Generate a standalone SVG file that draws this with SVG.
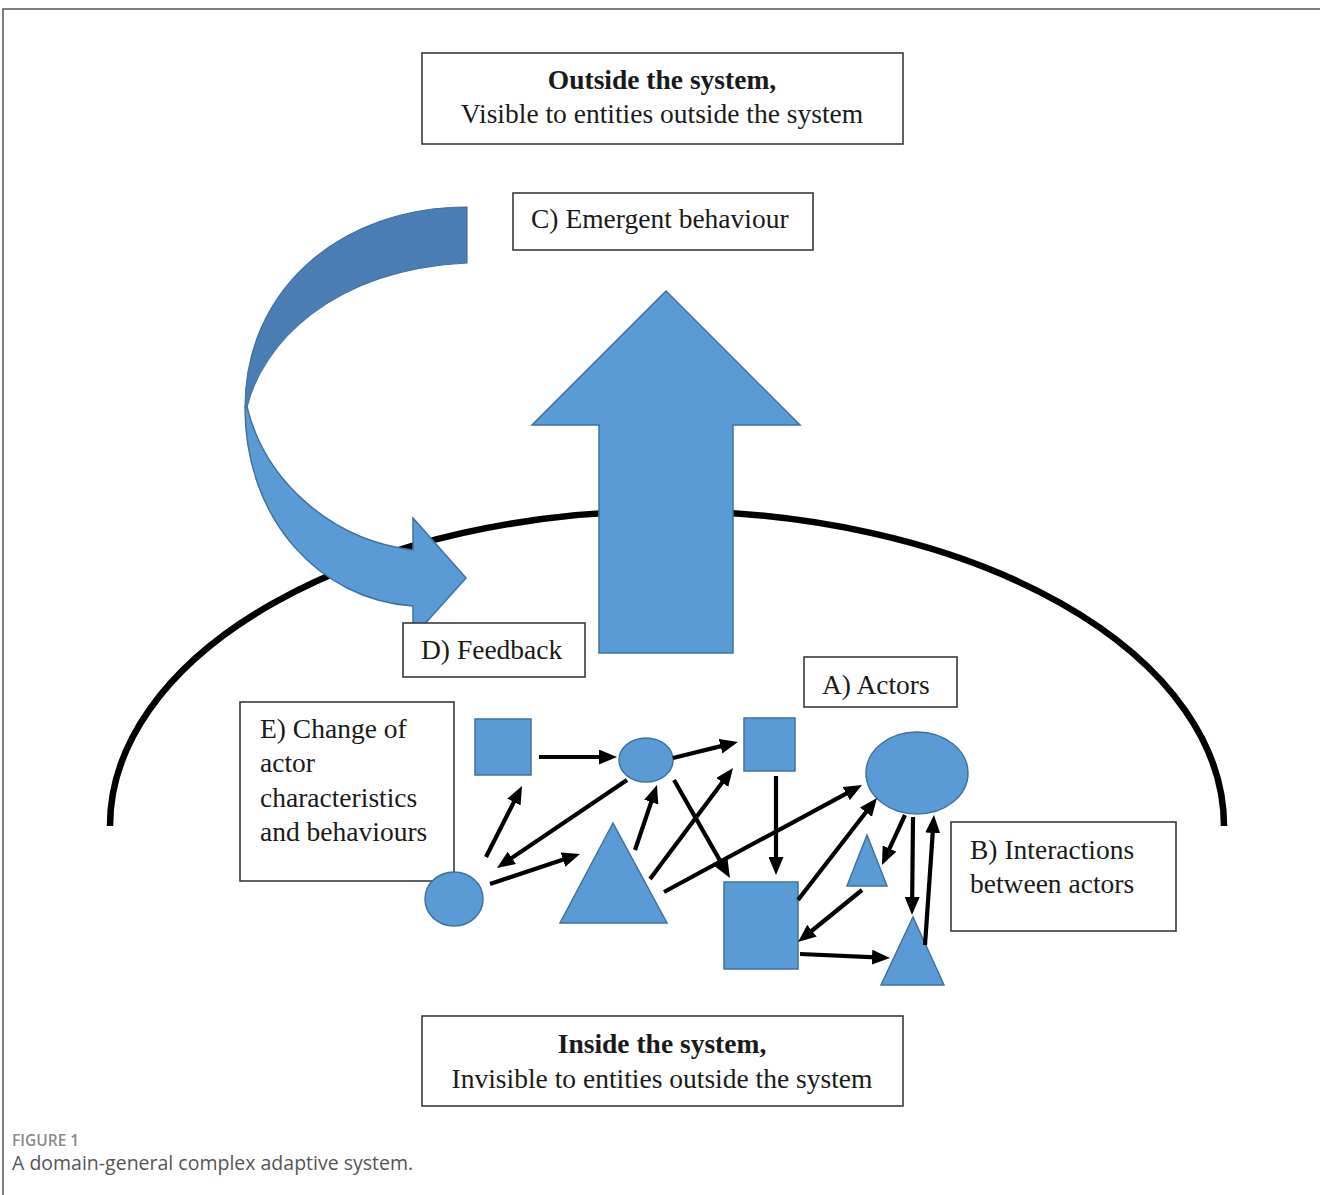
<svg xmlns="http://www.w3.org/2000/svg" width="1320" height="1195" viewBox="0 0 1320 1195">
<defs>
<style>
.box{fill:#fff;stroke:#3a3a3a;stroke-width:1.6}
.t{font-family:"Liberation Serif","Times New Roman",serif;font-size:27.5px;fill:#1a1a1a}
.b{font-weight:bold}
.actor{fill:#5b9bd5;stroke:#41719c;stroke-width:1.5}
.big{fill:#5b9bd5;stroke:#41719c;stroke-width:1.5}
.dark{fill:#4a7db3;stroke:#41719c;stroke-width:1.2}
.c{stroke:#000;stroke-width:4.2;fill:none;marker-end:url(#ah)}
.cap1{font-family:"Open Sans","Noto Sans",sans-serif;font-size:15.5px;font-weight:600;fill:#8a8a8a}
.cap2{font-family:"Open Sans","Noto Sans",sans-serif;font-size:19.5px;fill:#555}
</style>
<marker id="ah" viewBox="0 0 18 15" markerWidth="18" markerHeight="15" markerUnits="userSpaceOnUse" refX="10" refY="7.5" orient="auto">
<path d="M0,0 L18,7.5 L0,15 Z" fill="#000"/>
</marker>
</defs>
<rect width="1320" height="1195" fill="#fff"/>
<path d="M3 1195 V9 H1320" fill="none" stroke="#555" stroke-width="1.5"/>

<g id="system-boundary">
<path d="M110 826 A557 315 0 0 1 1224 826" fill="none" stroke="#000" stroke-width="6.5"/>
</g>

<g id="emergent-arrow">
<polygon class="big" points="666,291 800,425 733,425 733,653 599,653 599,425 532,425"/>
</g>

<g id="feedback-arrow">
<path class="dark" d="M467 207 C340 207 245 290 245 407 L247 407 C262 345 330 270 467 263 Z"/>
<path class="big" d="M245 407 C245 520 320 600 413 606 L413 637 L466 578 L413 518 L413 550 C330 540 265 480 247 407 Z"/>
</g>

<g id="box-outside">
<rect class="box" x="422" y="53" width="481" height="91"/>
<text class="t b" x="662" y="89" text-anchor="middle">Outside the system,</text>
<text class="t" x="662" y="123" text-anchor="middle">Visible to entities outside the system</text>
</g>

<g id="box-c">
<rect class="box" x="513" y="193" width="300" height="57"/>
<text class="t" x="531" y="228">C) Emergent behaviour</text>
</g>

<g id="box-d">
<rect class="box" x="403" y="623" width="182" height="54"/>
<text class="t" x="421" y="659">D) Feedback</text>
</g>

<g id="box-a">
<rect class="box" x="804" y="657" width="153" height="50"/>
<text class="t" x="822" y="694">A) Actors</text>
</g>

<g id="box-e">
<rect class="box" x="240" y="702" width="214" height="179"/>
<text class="t" x="260" y="738">E) Change of</text>
<text class="t" x="260" y="772">actor</text>
<text class="t" x="260" y="807">characteristics</text>
<text class="t" x="260" y="841">and behaviours</text>
</g>

<g id="box-b">
<rect class="box" x="951" y="822" width="225" height="109"/>
<text class="t" x="970" y="859">B) Interactions</text>
<text class="t" x="970" y="893">between actors</text>
</g>

<g id="box-inside">
<rect class="box" x="422" y="1016" width="481" height="90"/>
<text class="t b" x="662" y="1053" text-anchor="middle">Inside the system,</text>
<text class="t" x="662" y="1088" text-anchor="middle">Invisible to entities outside the system</text>
</g>

<g id="actor-square1"><rect class="actor" x="475" y="719" width="56" height="56"/></g>
<g id="actor-ellipse1"><ellipse class="actor" cx="646" cy="760" rx="27" ry="22"/></g>
<g id="actor-square2"><rect class="actor" x="744" y="718" width="51" height="53"/></g>
<g id="actor-circle"><ellipse class="actor" cx="454" cy="899" rx="29" ry="27"/></g>
<g id="actor-triangle1"><polygon class="actor" points="613,823 667,923 560,923"/></g>
<g id="actor-square3"><rect class="actor" x="724" y="882" width="74" height="87"/></g>
<g id="actor-ellipse2"><ellipse class="actor" cx="917" cy="773" rx="51" ry="41"/></g>
<g id="actor-triangle2"><polygon class="actor" points="867,835 887,886 847,886"/></g>
<g id="actor-triangle3"><polygon class="actor" points="913,917 944,985 881,985"/></g>

<g id="connectors">
<line class="c" x1="539" y1="757" x2="609" y2="757"/>
<line class="c" x1="673" y1="758" x2="730.2" y2="743.9"/>
<line class="c" x1="486" y1="857" x2="518.4" y2="793.1"/>
<line class="c" x1="627" y1="780" x2="503.6" y2="863.5"/>
<line class="c" x1="490" y1="884" x2="572.4" y2="856.5"/>
<line class="c" x1="635" y1="850" x2="654.4" y2="792.6"/>
<line class="c" x1="650" y1="879" x2="728.2" y2="774.4"/>
<line class="c" x1="674" y1="780" x2="726" y2="871.1"/>
<line class="c" x1="776" y1="776" x2="776" y2="867"/>
<line class="c" x1="664" y1="892" x2="855" y2="788.8"/>
<line class="c" x1="798" y1="900" x2="872.1" y2="804.3"/>
<line class="c" x1="905" y1="815" x2="885.3" y2="857.7"/>
<line class="c" x1="862" y1="890" x2="804.2" y2="937"/>
<line class="c" x1="800" y1="954" x2="882" y2="957.6"/>
<line class="c" x1="913" y1="817" x2="912.1" y2="907"/>
<line class="c" x1="925" y1="945" x2="933.4" y2="823"/>
</g>

<g id="caption">
<text class="cap1" x="12" y="1146">FIGURE 1</text>
<text class="cap2" x="12" y="1170">A domain-general complex adaptive system.</text>
</g>
</svg>
